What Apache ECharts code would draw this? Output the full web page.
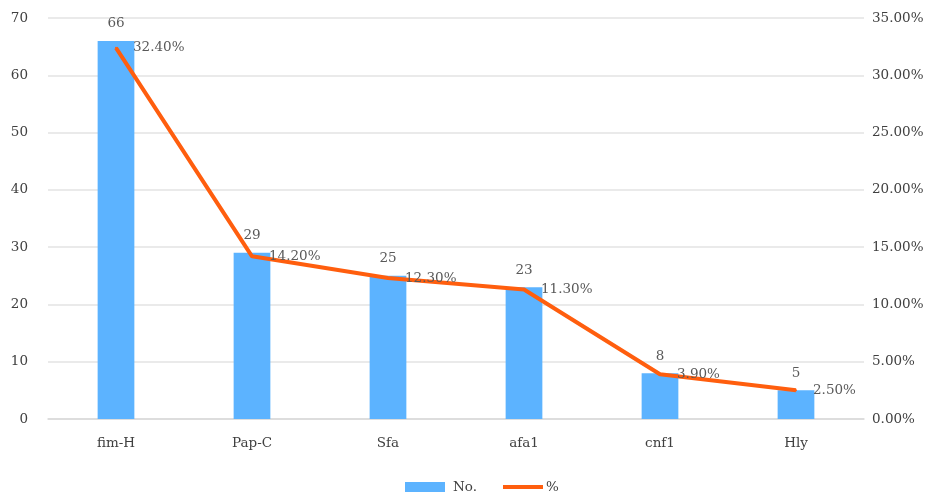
<!DOCTYPE html>
<html>
<head>
<meta charset="utf-8">
<script src="https://cdn.jsdelivr.net/npm/echarts@6/dist/echarts.min.js"></script>
<style>
  html, body { margin: 0; padding: 0; background: #fff; }
  #chart { width: 935px; height: 494px; }
</style>
</head>
<body>
<div id="chart"></div>
<script>
// Gene categories and their counts / percentages
const categories = ['fim-H', 'Pap-C', 'Sfa', 'afa1', 'cnf1', 'Hly'];
const counts = [66, 29, 25, 23, 8, 5];
const percents = [32.4, 14.2, 12.3, 11.3, 3.9, 2.5];

const FONT = '"DejaVu Serif", "Liberation Serif", serif';
const TEXT = '#595959';
const AXIS_TEXT = '#404040';
const ORANGE = '#FF5E0E';

const chart = echarts.init(document.getElementById('chart'));
chart.setOption({
  animation: false,
  textStyle: { fontFamily: FONT },
  grid: { left: 48, right: 71, top: 18, bottom: 75 },
  legend: {
    bottom: -5,
    left: 400,
    itemWidth: 40,
    itemHeight: 10,
    itemGap: 26,
    textStyle: { color: AXIS_TEXT, fontSize: 13.5, fontFamily: FONT, padding: [0, 0, 0, 3] },
    data: [
      { name: 'No.', icon: 'rect' },
      { name: '%', icon: 'path://M0,0 L40,0 L40,4 L0,4 Z', itemStyle: { color: ORANGE, opacity: 1 },
        textStyle: { padding: [0, 0, 0, -2] } }
    ]
  },
  xAxis: {
    type: 'category',
    data: categories,
    axisLine: { lineStyle: { color: '#d9d9d9', width: 1.5 } },
    axisTick: { show: false },
    axisLabel: { color: AXIS_TEXT, fontSize: 13.5, margin: 17, fontFamily: FONT }
  },
  yAxis: [
    {
      type: 'value', min: 0, max: 70, interval: 10,
      axisLabel: { color: AXIS_TEXT, fontSize: 13.5, margin: 20, fontFamily: FONT },
      splitLine: { lineStyle: { color: '#e3e3e3', width: 1.5 } },
      axisLine: { show: false }, axisTick: { show: false }
    },
    {
      type: 'value', min: 0, max: 35, interval: 5,
      axisLabel: {
        color: AXIS_TEXT, fontSize: 13.5, margin: 8, fontFamily: FONT,
        formatter: v => v.toFixed(2) + '%'
      },
      splitLine: { show: false },
      axisLine: { show: false }, axisTick: { show: false }
    }
  ],
  series: [
    {
      name: 'No.',
      type: 'bar',
      data: counts,
      barWidth: '27%',
      itemStyle: { color: '#5CB3FF' },
      label: {
        show: true, position: 'top', distance: 10,
        color: TEXT, fontSize: 13.5, fontFamily: FONT
      }
    },
    {
      name: '%',
      type: 'line',
      yAxisIndex: 1,
      data: percents,
      symbol: 'circle',
      symbolSize: 2,
      showSymbol: true,
      itemStyle: { color: ORANGE },
      lineStyle: { color: ORANGE, width: 4 },
      label: {
        show: true, position: 'right', distance: 16, offset: [0, 6],
        color: TEXT, fontSize: 13.5, fontFamily: FONT,
        formatter: p => p.value.toFixed(2) + '%'
      },
      labelLayout: { hideOverlap: false }
    }
  ]
});
</script>
</body>
</html>
